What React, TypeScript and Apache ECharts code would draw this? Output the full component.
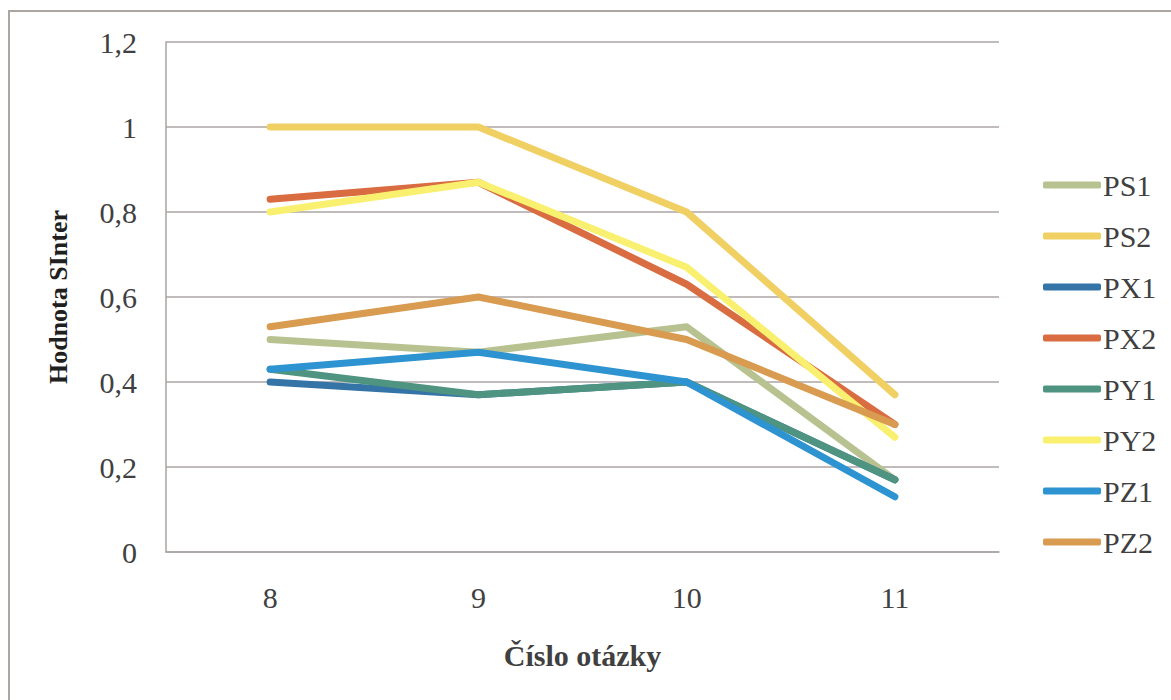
import React, { useEffect, useRef } from "react";
import * as echarts from "echarts";

const categories = ["8", "9", "10", "11"];
const seriesNames = ["PS1", "PS2", "PX1", "PX2", "PY1", "PY2", "PZ1", "PZ2"];
const PS1 = [0.5, 0.47, 0.53, 0.17];
const PS2 = [1.0, 1.0, 0.8, 0.37];
const PX1 = [0.4, 0.37, 0.4, 0.17];
const PX2 = [0.83, 0.87, 0.63, 0.3];
const PY1 = [0.43, 0.37, 0.4, 0.17];
const PY2 = [0.8, 0.87, 0.67, 0.27];
const PZ1 = [0.43, 0.47, 0.4, 0.13];
const PZ2 = [0.53, 0.6, 0.5, 0.3];
const seriesValues = [PS1, PS2, PX1, PX2, PY1, PY2, PZ1, PZ2];
const colors = ["#B7C290", "#F0CF63", "#3574A7", "#D96C40", "#4F9480", "#FAF070", "#2E93D1", "#D89B50"];

export default function App() {
  const ref = useRef<HTMLDivElement>(null);
  useEffect(() => {
    if (!ref.current) return;
    const chart = echarts.init(ref.current, null, { renderer: "svg" });
    const font = "'Liberation Serif', 'Times New Roman', serif";
    chart.setOption({
      animation: false,
      backgroundColor: "#ffffff",
      textStyle: { fontFamily: font },
      graphic: [
        {
          type: "rect",
          shape: { x: 9, y: 11, width: 1200, height: 720 },
          style: { fill: "none", stroke: "#ABA6A2", lineWidth: 2 },
          silent: true,
          z: -10,
        },
      ],
      grid: { left: 166, right: 172, top: 42, bottom: 148, containLabel: false },
      legend: {
        orient: "vertical",
        left: 1038,
        top: 165,
        itemWidth: 58,
        itemHeight: 7,
        itemGap: 21,
        icon: "roundRect",
        textStyle: { fontFamily: font, fontSize: 30, color: "#404040", lineHeight: 30, padding: [0, 0, 0, -3] },
        data: seriesNames,
      },
      xAxis: {
        type: "category",
        data: categories,
        boundaryGap: true,
        axisLine: { show: true, lineStyle: { color: "#A9A3A1", width: 1.5 } },
        axisTick: { show: false },
        axisLabel: { fontFamily: font, fontSize: 30, color: "#404040", margin: 30 },
        name: "Číslo otázky",
        nameLocation: "middle",
        nameGap: 88,
        nameTextStyle: { fontFamily: font, fontSize: 30, fontWeight: "bold", color: "#404040" },
      },
      yAxis: {
        type: "value",
        min: 0,
        max: 1.2,
        interval: 0.2,
        axisLine: { show: true, lineStyle: { color: "#A9A3A1", width: 1.5 } },
        axisTick: { show: false },
        splitLine: { show: true, lineStyle: { color: "#ADA6A4", width: 1.5 } },
        axisLabel: {
          fontFamily: font,
          fontSize: 30,
          color: "#404040",
          margin: 29,
          formatter: (v: number) => String(Math.round(v * 10) / 10).replace(".", ","),
        },
        name: "Hodnota SInter",
        nameLocation: "middle",
        nameGap: 95,
        nameTextStyle: { fontFamily: font, fontSize: 26, fontWeight: "bold", color: "#202020" },
      },
      series: seriesNames.map((name, i) => ({
        name,
        type: "line",
        data: seriesValues[i],
        symbol: "none",
        color: colors[i],
        lineStyle: { width: 7, color: colors[i], cap: "round", join: "round" },
        itemStyle: { color: colors[i] },
      })),
    });
    return () => chart.dispose();
  }, []);
  return <div ref={ref} style={{ position: "fixed", left: 0, top: 0, width: 1171, height: 700 }} />;
}
